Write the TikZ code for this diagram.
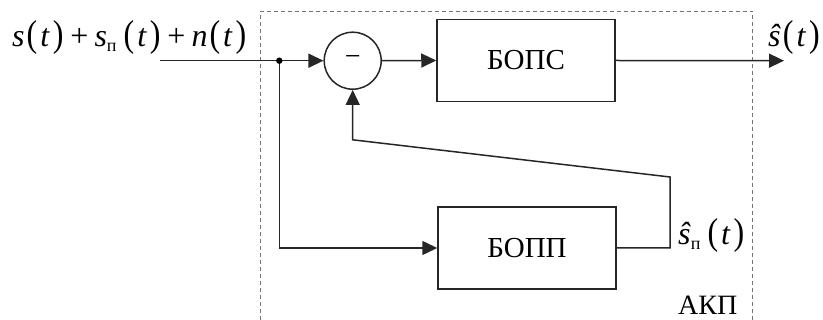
\documentclass[tikz,border=0pt]{standalone}
\usepackage{fontspec}
\setmainfont{Liberation Serif}
\newfontfamily\tms{Liberation Serif}
\usepackage{graphicx}
\usetikzlibrary{arrows.meta}

% stretched parentheses as in the formula editor
\newcommand\tp[1]{\scalebox{1}[1.17]{#1}}
\newcommand\sub[1]{\raisebox{-5pt}{\fontsize{18}{18}\selectfont #1}}
\newcommand\hs[1]{\hspace{#1pt}}
% argument "(t)" with spaced parentheses
\newcommand\targ{\tp{(}\hs{3}\textit{t}\hs{3}\tp{)}}
\newcommand\plus{\hs{7}+\hs{6}}

\begin{document}
\begin{tikzpicture}[x=1pt,y=-1pt,
  wire/.style={line width=1.5pt, draw=black!85},
  arr/.style={wire,-{Triangle[length=15pt,width=14pt]}},
  block/.style={draw=black!85,line width=1.5pt,minimum width=178pt,minimum height=82pt,inner sep=0pt,font=\tms\fontsize{29}{30}\selectfont},
  sumnode/.style={circle,draw=black!85,line width=1.5pt,minimum size=57pt,inner sep=0pt,font=\tms\fontsize{28}{30}\selectfont},
  lbl/.style={inner sep=0pt,font=\tms\fontsize{32}{34}\selectfont}
]
\useasboundingbox (0,0) rectangle (823,320);

% dashed frame of the unit
\draw[draw=black!55,line width=0.9pt,dash pattern=on 4pt off 3pt]
  (260.7,320) -- (260.7,11) -- (752.7,11) -- (752.7,320);

% blocks
\node[sumnode] (sum) at (352.7,60.7) {\raisebox{-2pt}{−}};
\node[block] (bops) at (526,60.5) {БОПС};
\node[block] (bopp) at (527,248) {БОПП};

% connector points
\coordinate (in) at (160,60.7);
\coordinate (j) at (279.3,60.7);
\coordinate (out) at (784,60.7);
\coordinate (fbr) at (670,248);
\coordinate (fbt) at (670,177);
\coordinate (fbl) at (352.7,139.8);

% connectors
\draw[wire] (in) -- (j);
\draw[arr] (j) -- (sum.west);
\draw[arr] (sum.east) -- (bops.west);
\draw[arr] (bops.east) -- (out);
\draw[arr] (j) |- (bopp.west);
\draw[arr] (bopp.east) -- (fbr) -- (fbt) -- (fbl) -- (sum.south);
\fill[black] (j) circle (3.2pt);

% labels
\node[lbl,anchor=base west] (inlbl) at (12,47)
  {\textit{s}\hs{2}\targ\plus\textit{s}\sub{п}\hs{7}\targ\plus\textit{n}\hs{2}\targ};
\node[lbl,anchor=base west] (outlbl) at (768,47)
  {\textit{ŝ}\hs{2}\targ};
\node[lbl,anchor=base west] (fblbl) at (678,245)
  {\textit{ŝ}\sub{п}\hs{7}\targ};
\node[lbl,anchor=base west,font=\tms\fontsize{28}{30}\selectfont] (akp) at (678,315) {АКП};
\end{tikzpicture}
\end{document}
